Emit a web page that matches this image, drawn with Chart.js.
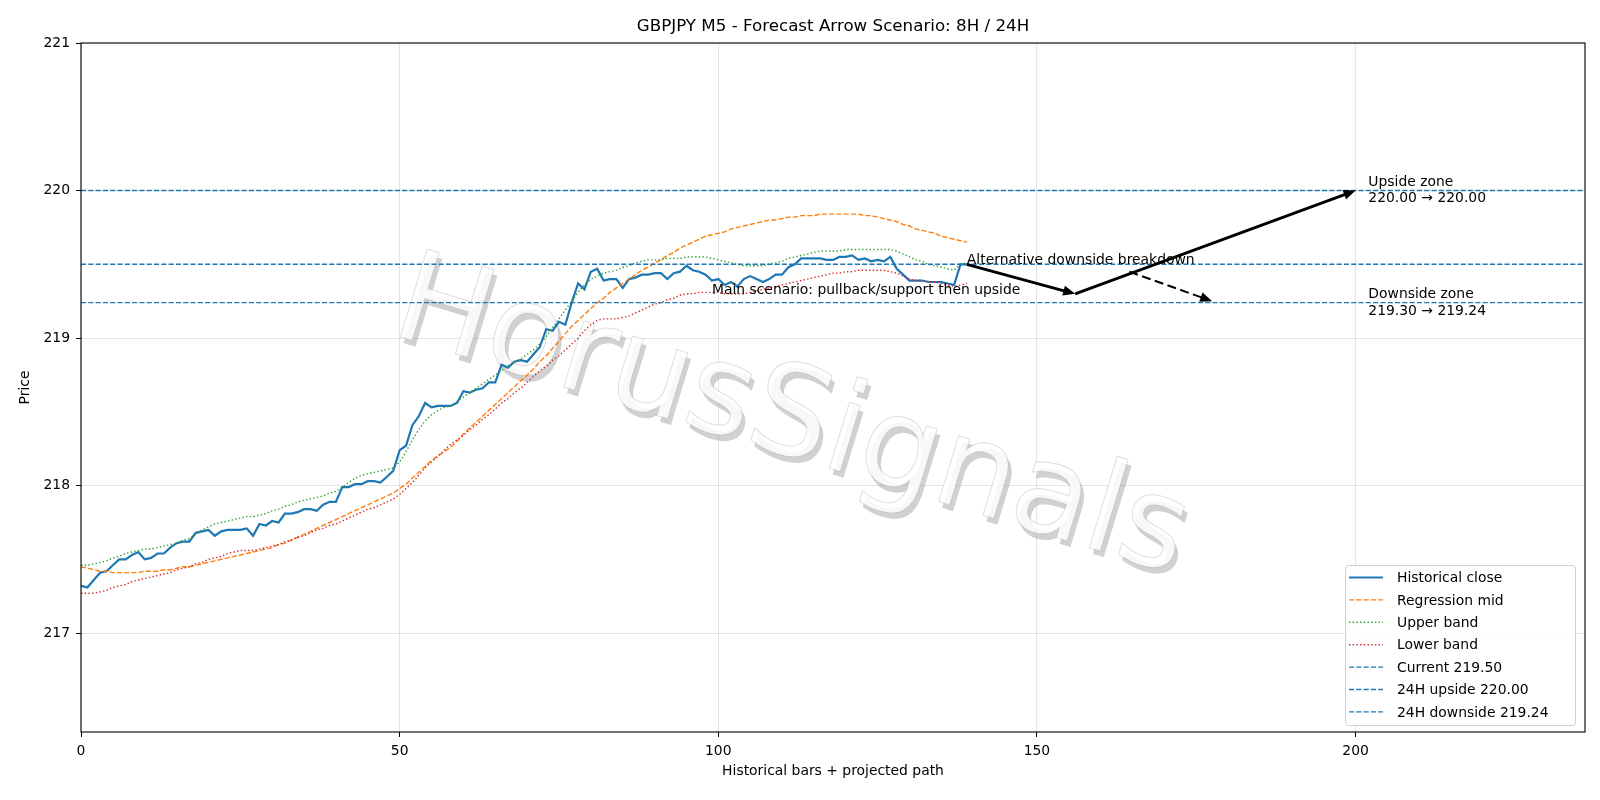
<!DOCTYPE html>
<html><head><meta charset="utf-8">
<script src="https://cdn.jsdelivr.net/npm/chart.js@4.4.1/dist/chart.umd.min.js"></script>
<style>html,body{margin:0;padding:0;background:#fff;}canvas{display:block;}</style>
</head><body>
<canvas id="c" width="1600" height="800"></canvas>
<script>
const TITLE = "GBPJPY M5 - Forecast Arrow Scenario: 8H / 24H";
const X_LABEL = "Historical bars + projected path";
const Y_LABEL = "Price";
const X_RANGE = [0, 236];
const Y_RANGE = [216.33, 221];
const xTicks = [0, 50, 100, 150, 200];
const yTicks = [217, 218, 219, 220, 221];

const closeVals = [217.32,217.31,217.36,217.41,217.42,217.46,217.50,217.50,217.53,217.55,
217.50,217.51,217.54,217.54,217.58,217.61,217.62,217.62,217.68,217.69,
217.70,217.66,217.69,217.70,217.70,217.70,217.71,217.66,217.74,217.73,
217.76,217.75,217.81,217.81,217.82,217.84,217.84,217.83,217.87,217.89,
217.89,217.99,217.99,218.01,218.01,218.03,218.03,218.02,218.06,218.10,
218.24,218.27,218.41,218.47,218.56,218.53,218.54,218.54,218.54,218.56,
218.64,218.63,218.65,218.66,218.70,218.70,218.82,218.80,218.84,218.85,
218.84,218.89,218.94,219.06,219.05,219.11,219.09,219.24,219.37,219.33,
219.45,219.47,219.39,219.40,219.40,219.34,219.40,219.41,219.43,219.43,
219.44,219.44,219.40,219.44,219.45,219.49,219.46,219.45,219.43,219.39,
219.40,219.36,219.38,219.35,219.40,219.42,219.40,219.38,219.40,219.43,
219.43,219.48,219.50,219.54,219.54,219.54,219.54,219.53,219.53,219.55,
219.55,219.56,219.53,219.54,219.52,219.53,219.52,219.55,219.47,219.43,
219.39,219.39,219.39,219.38,219.38,219.38,219.37,219.36,219.50,219.50];

const regMid = [217.45,217.44,217.43,217.42,217.42,217.41,217.41,217.41,217.41,217.41,
217.42,217.42,217.42,217.43,217.43,217.44,217.45,217.45,217.46,217.47,
217.48,217.49,217.50,217.51,217.52,217.53,217.54,217.55,217.56,217.57,
217.58,217.60,217.61,217.63,217.65,217.67,217.69,217.71,217.73,217.75,
217.77,217.79,217.81,217.83,217.85,217.87,217.89,217.91,217.93,217.95,
217.98,218.01,218.05,218.09,218.13,218.17,218.20,218.23,218.26,218.30,
218.35,218.39,218.43,218.47,218.51,218.55,218.59,218.63,218.67,218.71,
218.75,218.79,218.84,218.88,218.93,218.98,219.03,219.08,219.12,219.16,
219.20,219.24,219.27,219.31,219.34,219.37,219.40,219.43,219.46,219.48,
219.51,219.53,219.56,219.58,219.61,219.63,219.65,219.67,219.69,219.70,
219.71,219.72,219.74,219.75,219.76,219.77,219.78,219.79,219.80,219.80,
219.81,219.82,219.82,219.83,219.83,219.83,219.84,219.84,219.84,219.84,
219.84,219.84,219.84,219.83,219.83,219.82,219.81,219.80,219.79,219.77,
219.76,219.74,219.73,219.72,219.71,219.69,219.68,219.67,219.66,219.65];

const upperBand = [217.46,217.46,217.47,217.48,217.49,217.51,217.52,217.54,217.55,217.56,
217.57,217.57,217.58,217.59,217.60,217.61,217.63,217.64,217.67,217.70,
217.72,217.74,217.75,217.76,217.77,217.78,217.79,217.79,217.80,217.81,
217.83,217.84,217.86,217.87,217.89,217.90,217.91,217.92,217.93,217.95,
217.96,217.99,218.02,218.05,218.07,218.08,218.09,218.10,218.11,218.12,
218.16,218.23,218.31,218.38,218.44,218.48,218.51,218.53,218.54,218.57,
218.60,218.63,218.66,218.69,218.72,218.75,218.78,218.81,218.84,218.86,
218.89,218.92,218.96,219.01,219.07,219.13,219.19,219.25,219.31,219.36,
219.40,219.42,219.44,219.45,219.46,219.48,219.49,219.51,219.52,219.53,
219.53,219.53,219.54,219.54,219.54,219.55,219.55,219.55,219.55,219.54,
219.53,219.52,219.51,219.50,219.49,219.49,219.49,219.49,219.50,219.51,
219.52,219.54,219.55,219.56,219.57,219.58,219.59,219.59,219.59,219.59,
219.60,219.60,219.60,219.60,219.60,219.60,219.60,219.60,219.59,219.57,
219.55,219.53,219.52,219.50,219.49,219.48,219.47,219.46,219.50,219.51];

const lowerBand = [217.27,217.27,217.27,217.28,217.29,217.31,217.32,217.33,217.35,217.36,
217.37,217.38,217.39,217.40,217.41,217.43,217.44,217.45,217.47,217.48,
217.50,217.51,217.52,217.54,217.55,217.56,217.56,217.56,217.57,217.58,
217.59,217.60,217.62,217.63,217.65,217.66,217.68,217.70,217.71,217.73,
217.74,217.76,217.78,217.80,217.82,217.84,217.85,217.87,217.89,217.91,
217.94,217.98,218.02,218.07,218.12,218.16,218.20,218.24,218.28,218.31,
218.34,218.38,218.41,218.45,218.48,218.52,218.56,218.59,218.63,218.66,
218.70,218.74,218.78,218.81,218.85,218.88,218.92,218.96,219.00,219.05,
219.09,219.12,219.13,219.13,219.13,219.14,219.15,219.17,219.19,219.21,
219.23,219.24,219.26,219.27,219.29,219.30,219.30,219.31,219.31,219.31,
219.31,219.30,219.30,219.30,219.30,219.31,219.32,219.33,219.34,219.35,
219.36,219.37,219.38,219.39,219.40,219.41,219.42,219.43,219.44,219.44,
219.45,219.45,219.46,219.46,219.46,219.46,219.46,219.45,219.44,219.42,
219.40,219.39,219.39,219.38,219.38,219.37,219.36,219.35,219.36,219.37];

const levelNames = ["Current 219.50", "24H upside 220.00", "24H downside 219.24"];
const levelValues = [219.50, 220.00, 219.24];

// projected main path (solid arrows) and alternative (dashed arrow)
const mainPathX = [139, 156, 200];
const mainPathY = [219.50, 219.30, 220.00];
const altPathX = [164.5, 177.5];
const altPathY = [219.45, 219.25];

const notes = [
  {text: ["Main scenario: pullback/support then upside"], x: 99, y: 219.30, base: "alphabetic"},
  {text: ["Alternative downside breakdown"], x: 139, y: 219.50, base: "alphabetic"},
  {text: ["Upside zone", "220.00 \u2192 220.00"], x: 202, y: 220.00, base: "center"},
  {text: ["Downside zone", "219.30 \u2192 219.24"], x: 202, y: 219.24, base: "center"}
];
const WATERMARK = "HorusSignals";

const FONT = '"DejaVu Sans", Arial, sans-serif';
const C_BLUE = "#1f77b4", C_ORANGE = "#ff7f0e", C_GREEN = "#2ca02c", C_RED = "#d62728";

function pts(arr){ return arr.map((v,i)=>({x:i,y:v})); }
function hline(v){ return [{x:X_RANGE[0],y:v},{x:X_RANGE[1],y:v}]; }

const datasets = [
  {label:"Historical close", data:pts(closeVals), borderColor:C_BLUE, borderWidth:2.2, order:0},
  {label:"Regression mid", data:pts(regMid), borderColor:C_ORANGE, borderWidth:1.4, borderDash:[5.1,2.2], order:-1},
  {label:"Upper band", data:pts(upperBand), borderColor:C_GREEN, borderWidth:1.4, borderDash:[1.4,2.3], order:-2},
  {label:"Lower band", data:pts(lowerBand), borderColor:C_RED, borderWidth:1.4, borderDash:[1.4,2.3], order:-3},
];
levelValues.forEach((v,k)=>datasets.push({label:levelNames[k], data:hline(v), borderColor:C_BLUE, borderWidth:1.4, borderDash:[5.1,2.2], order:-4-k}));
datasets.forEach(d=>{d.pointRadius=0; d.fill=false; d.tension=0; d.borderCapStyle='butt';});

function drawArrow(ctx, x1,y1,x2,y2, dashed, lw){
  const ang = Math.atan2(y2-y1, x2-x1);
  const hl = 12, hw = 5;
  const ex = x2 - Math.cos(ang)*hl*0.8, ey = y2 - Math.sin(ang)*hl*0.8;
  ctx.save();
  ctx.strokeStyle = "#000"; ctx.fillStyle = "#000"; ctx.lineWidth = lw;
  ctx.setLineDash(dashed ? [9,4.5] : []);
  ctx.beginPath(); ctx.moveTo(x1,y1); ctx.lineTo(ex,ey); ctx.stroke();
  ctx.setLineDash([]);
  ctx.beginPath();
  ctx.moveTo(x2,y2);
  ctx.lineTo(x2 - Math.cos(ang)*hl - Math.sin(ang)*hw, y2 - Math.sin(ang)*hl + Math.cos(ang)*hw);
  ctx.lineTo(x2 - Math.cos(ang)*hl + Math.sin(ang)*hw, y2 - Math.sin(ang)*hl - Math.cos(ang)*hw);
  ctx.closePath(); ctx.fill();
  ctx.restore();
}

const decor = {
  id: "decor",
  beforeDatasetsDraw(chart){
    const {ctx, chartArea:a} = chart;
    const xs = chart.scales.x, ys = chart.scales.y;
    ctx.save();
    ctx.beginPath(); ctx.rect(a.left,a.top,a.right-a.left,a.bottom-a.top); ctx.clip();
    const cx = xs.getPixelForValue(111.4), cy = ys.getPixelForValue(218.43);
    ctx.translate(cx, cy);
    ctx.rotate(17*Math.PI/180);
    ctx.font = "126px " + FONT;
    ctx.textAlign = "center"; ctx.textBaseline = "middle";
    ctx.fillStyle = "rgba(140,140,140,0.40)";
    ctx.fillText(WATERMARK, 5, 5);
    ctx.fillStyle = "rgba(255,255,255,0.85)";
    ctx.fillText(WATERMARK, 0, 0);
    ctx.lineWidth = 1; ctx.strokeStyle = "rgba(150,150,150,0.30)";
    ctx.strokeText(WATERMARK, 0, 0);
    ctx.restore();
  },
  afterDatasetsDraw(chart){
    const {ctx, chartArea:a} = chart;
    const xs = chart.scales.x, ys = chart.scales.y;
    for (let i=0;i<mainPathX.length-1;i++){
      drawArrow(ctx, xs.getPixelForValue(mainPathX[i]), ys.getPixelForValue(mainPathY[i]),
        xs.getPixelForValue(mainPathX[i+1]), ys.getPixelForValue(mainPathY[i+1]), false, 2.8);
    }
    drawArrow(ctx, xs.getPixelForValue(altPathX[0]), ys.getPixelForValue(altPathY[0]),
      xs.getPixelForValue(altPathX[1]), ys.getPixelForValue(altPathY[1]), true, 2.0);
    ctx.save();
    ctx.font = "13.9px " + FONT; ctx.fillStyle = "#000"; ctx.textAlign = "left";
    notes.forEach(n=>{
      const px = xs.getPixelForValue(n.x), py = ys.getPixelForValue(n.y);
      if (n.base === "center"){
        ctx.textBaseline = "middle";
        const lh = 16.6, n0 = py - lh*(n.text.length-1)/2;
        n.text.forEach((t,k)=>ctx.fillText(t, px, n0 + k*lh));
      } else {
        ctx.textBaseline = "alphabetic";
        ctx.fillText(n.text[0], px, py);
      }
    });
    ctx.restore();
  },
  afterDraw(chart){
    const {ctx, chartArea:a} = chart;
    ctx.save();
    ctx.strokeStyle = "#000"; ctx.lineWidth = 1.1;
    ctx.strokeRect(a.left, a.top, a.right-a.left, a.bottom-a.top);
    ctx.fillStyle = "#000";
    ctx.textAlign = "center"; ctx.textBaseline = "middle";
    ctx.font = "16.7px " + FONT;
    ctx.fillText(TITLE, (a.left+a.right)/2, 26.5);
    ctx.font = "13.9px " + FONT;
    ctx.fillText(X_LABEL, (a.left+a.right)/2, 771);
    ctx.save();
    ctx.translate(25, (a.top+a.bottom)/2);
    ctx.rotate(-Math.PI/2);
    ctx.fillText(Y_LABEL, 0, 0);
    ctx.restore();
    const metas = chart.data.datasets;
    const bw = 230, bh = 160;
    const bx = a.right - 10 - bw, by = a.bottom - 7 - bh;
    ctx.beginPath();
    ctx.roundRect(bx+0.5, by+0.5, bw, bh, 3);
    ctx.fillStyle = "rgba(255,255,255,0.85)"; ctx.fill();
    ctx.strokeStyle = "#d0d0d0"; ctx.lineWidth = 1; ctx.stroke();
    ctx.textAlign = "left"; ctx.textBaseline = "middle";
    metas.forEach((d,k)=>{
      const ry = by + 12.5 + k*22.4;
      ctx.beginPath();
      ctx.strokeStyle = d.borderColor; ctx.lineWidth = d.borderWidth;
      ctx.setLineDash(d.borderDash || []);
      ctx.moveTo(bx+4, ry); ctx.lineTo(bx+38, ry); ctx.stroke();
      ctx.setLineDash([]);
      ctx.fillStyle = "#000";
      ctx.fillText(d.label, bx+52, ry+1);
    });
    ctx.restore();
  }
};

new Chart(document.getElementById("c"), {
  type: "line",
  data: {datasets},
  options: {
    responsive:false, animation:false, devicePixelRatio:1,
    layout:{padding:{top:43, right:15, left:0, bottom:0}},
    plugins:{legend:{display:false}, tooltip:{enabled:false}, title:{display:false}},
    scales:{
      x:{type:"linear", min:X_RANGE[0], max:X_RANGE[1],
        afterBuildTicks:(s)=>{s.ticks = xTicks.map(v=>({value:v}));},
        afterFit:(s)=>{s.height = 68;},
        grid:{color:"rgba(0,0,0,0.1)", lineWidth:1, tickColor:"#000", tickLength:5, drawTicks:true},
        border:{display:false},
        ticks:{color:"#000", font:{family:FONT, size:13.9}, padding:6, maxRotation:0, callback:(v)=>String(v)}
      },
      y:{type:"linear", min:Y_RANGE[0], max:Y_RANGE[1],
        afterBuildTicks:(s)=>{s.ticks = yTicks.map(v=>({value:v}));},
        afterFit:(s)=>{s.width = 81;},
        grid:{color:"rgba(0,0,0,0.1)", lineWidth:1, tickColor:"#000", tickLength:5, drawTicks:true},
        border:{display:false},
        ticks:{color:"#000", font:{family:FONT, size:13.9}, padding:6, callback:(v)=>String(v)}
      }
    }
  },
  plugins:[decor]
});
</script>
</body></html>
